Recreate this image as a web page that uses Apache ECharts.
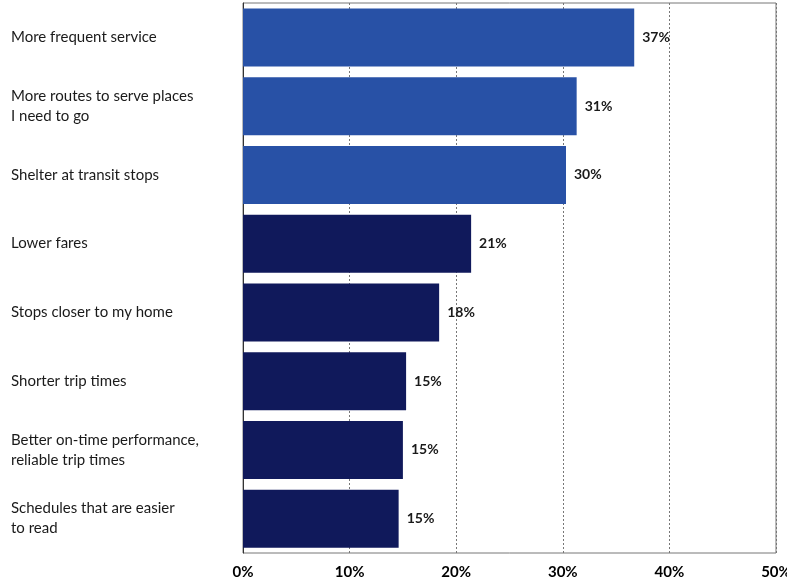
<!DOCTYPE html>
<html>
<head>
<meta charset="utf-8">
<script src="https://cdn.jsdelivr.net/npm/echarts@6/dist/echarts.min.js"></script>
<style>
  html, body { margin: 0; padding: 0; background: #fff; }
  #chart { width: 787px; height: 583px; }
</style>
</head>
<body>
<div id="chart"></div>
<script>
// categories, top to bottom
var categories = [
    'More frequent service',
    'More routes to serve places\nI need to go',
    'Shelter at transit stops',
    'Lower fares',
    'Stops closer to my home',
    'Shorter trip times',
    'Better on-time performance,\nreliable trip times',
    'Schedules that are easier\nto read'
];
// share of respondents, %
var shares = [36.7, 31.3, 30.3, 21.4, 18.4, 15.3, 15.0, 14.6];
// first three are highlighted
var highlighted = [true, true, true, false, false, false, false, false];
var xTicks = [0, 10, 20, 30, 40, 50];

var chart = echarts.init(document.getElementById('chart'));

var barData = shares.map(function (v, i) {
    return {
        value: v,
        itemStyle: { color: highlighted[i] ? '#2851A6' : '#10195B' }
    };
});

var option = {
    animation: false,
    grid: {
        left: 243,
        right: 11,
        top: 3,
        bottom: 30,
        outerBoundsMode: 'none',
        containLabel: false,
        show: true,
        borderColor: '#777',
        borderWidth: 1
    },
    xAxis: {
        type: 'value',
        min: xTicks[0],
        max: xTicks[xTicks.length - 1],
        interval: 10,
        axisLine: { show: false },
        axisTick: { show: false },
        axisLabel: {
            formatter: '{value}%',
            color: '#000',
            fontFamily: 'Lato',
            fontWeight: 'bold',
            fontSize: 15,
            margin: 12
        },
        splitLine: {
            show: true,
            lineStyle: { color: '#777', type: [2, 2], width: 1 }
        }
    },
    yAxis: {
        type: 'category',
        data: categories,
        inverse: true,
        axisLine: { show: true, lineStyle: { color: '#333' } },
        axisTick: { show: false },
        axisLabel: {
            align: 'left',
            margin: 232,
            color: '#1a1a1a',
            fontFamily: 'Lato',
            fontSize: 15,
            lineHeight: 20
        }
    },
    series: [{
        type: 'bar',
        data: barData,
        barWidth: 58,
        label: {
            show: true,
            position: 'right',
            distance: 8,
            color: '#1a1a1a',
            fontFamily: 'Lato',
            fontWeight: 'bold',
            fontSize: 14,
            formatter: function (p) {
                return Math.round(p.value) + '%';
            }
        }
    }]
};

chart.setOption(option);
</script>
</body>
</html>
